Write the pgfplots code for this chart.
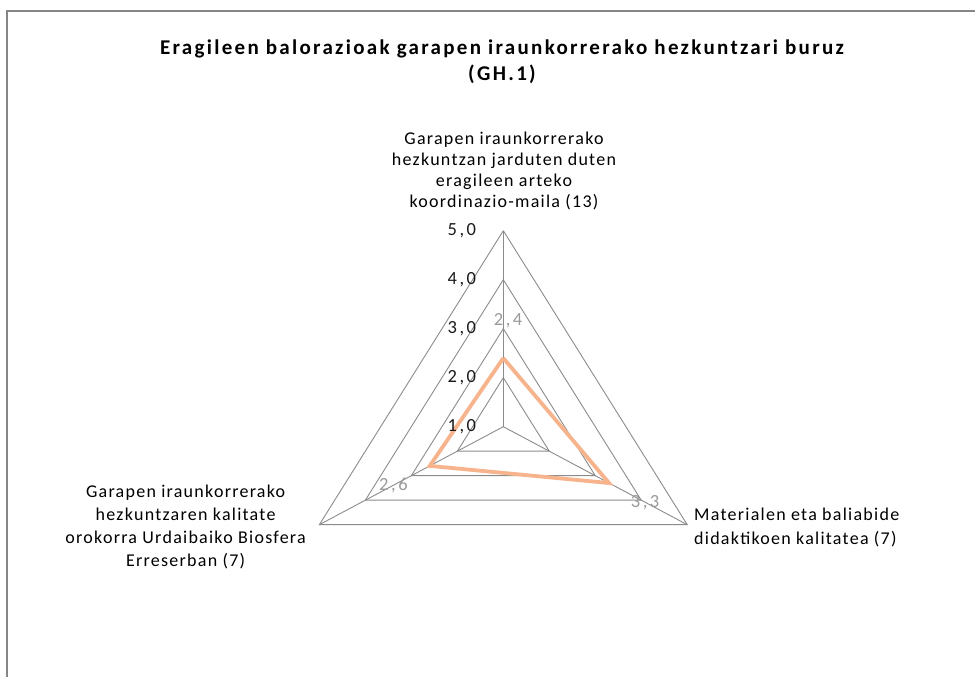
\documentclass[border=0pt]{standalone}
\usepackage{fontspec}
\setmainfont{Carlito}
\newfontfamily\titlefont[LetterSpace=11]{Carlito}
\newfontfamily\labelfont[LetterSpace=7]{Carlito}
\newfontfamily\tickfont[LetterSpace=14]{Carlito}
\usepackage{pgfplots}
\usepackage{pgfplotstable}
\pgfplotsset{compat=1.18}

\definecolor{framegray}{HTML}{868686}
\definecolor{gridgray}{HTML}{8C8C8C}
\definecolor{ticktext}{HTML}{1A1A1A}
\definecolor{vallabel}{HTML}{9A9A9A}
\definecolor{series}{HTML}{F7B48C}

% one row per category: angle of the spoke, value (closed)
\pgfplotstableread{
a    v
90   2.4
-30  3.3
210  2.6
90   2.4
}\radardata

\begin{document}
\begin{tikzpicture}[x=1pt,y=1pt]
\useasboundingbox (0,0) rectangle (975,677);
\fill[white] (0,0) rectangle (975,677);
\draw[framegray, line width=2pt] (7,0) -- (7,666) -- (975,666);

\node[font=\titlefont\fontsize{21}{26}\selectfont\bfseries, align=center] at (502,615.5)
  {Eragileen balorazioak garapen iraunkorrerako hezkuntzari buruz\\(GH.1)};

\begin{axis}[
    at={(503.3pt,250.3pt)}, anchor=origin,
    x=53.1pt, y=49pt,
    xmin=-4.2, xmax=4.2, ymin=-2.2, ymax=4.2,
    hide axis, clip=false,
]
% grid triangles, levels 2..5 (centre is 1,0)
\pgfplotsinvokeforeach{2,3,4,5}{
  \addplot[gridgray, line width=0.9pt, no marks]
    table[x expr={(#1-1)*cos(\thisrow{a})}, y expr={(#1-1)*sin(\thisrow{a})}] {\radardata};
}
% spokes
\addplot[gridgray, line width=1.2pt, no marks] coordinates {(0,0) (0,4)};
\addplot[gridgray, line width=0.9pt, no marks] coordinates {(0,0) (3.464,-2)};
\addplot[gridgray, line width=0.9pt, no marks] coordinates {(0,0) (-3.464,-2)};

% series
\addplot[series, line width=3.8pt, no marks, line join=miter]
  table[x expr={(\thisrow{v}-1)*cos(\thisrow{a})}, y expr={(\thisrow{v}-1)*sin(\thisrow{a})}] {\radardata};

% radial tick labels
\node[anchor=east, text=ticktext, font=\tickfont\fontsize{18.5}{22}\selectfont, inner sep=0pt] at (axis cs:0,0) [xshift=-27pt] {1,0};
\node[anchor=east, text=ticktext, font=\tickfont\fontsize{18.5}{22}\selectfont, inner sep=0pt] at (axis cs:0,1) [xshift=-27pt] {2,0};
\node[anchor=east, text=ticktext, font=\tickfont\fontsize{18.5}{22}\selectfont, inner sep=0pt] at (axis cs:0,2) [xshift=-27pt] {3,0};
\node[anchor=east, text=ticktext, font=\tickfont\fontsize{18.5}{22}\selectfont, inner sep=0pt] at (axis cs:0,3) [xshift=-27pt] {4,0};
\node[anchor=east, text=ticktext, font=\tickfont\fontsize{18.5}{22}\selectfont, inner sep=0pt] at (axis cs:0,4) [xshift=-27pt] {5,0};

% value labels
\node[text=vallabel, font=\tickfont\fontsize{18.5}{22}\selectfont, inner sep=0pt] at (axis cs:0.09,2.157) {2,4};
\node[text=vallabel, font=\tickfont\fontsize{18.5}{22}\selectfont, inner sep=0pt] at (axis cs:2.67,-1.557) {3,3};
\node[text=vallabel, font=\tickfont\fontsize{18.5}{22}\selectfont, inner sep=0pt] at (axis cs:-2.07,-1.19) {2,6};
\end{axis}

% category labels
\node[font=\labelfont\fontsize{18}{21}\selectfont, align=center, inner sep=0pt] at (504,505.5)
  {Garapen iraunkorrerako\\hezkuntzan jarduten duten\\eragileen arteko\\koordinazio-maila (13)};
\node[font=\labelfont\fontsize{18}{23}\selectfont, align=center, inner sep=0pt, anchor=east] at (306,149.5)
  {Garapen iraunkorrerako\\hezkuntzaren kalitate\\orokorra Urdaibaiko Biosfera\\Erreserban (7)};
\node[font=\labelfont\fontsize{18}{24}\selectfont, align=left, inner sep=0pt, anchor=west] at (694,149.5)
  {Materialen eta baliabide\\didaktikoen kalitatea (7)};
\end{tikzpicture}
\end{document}
